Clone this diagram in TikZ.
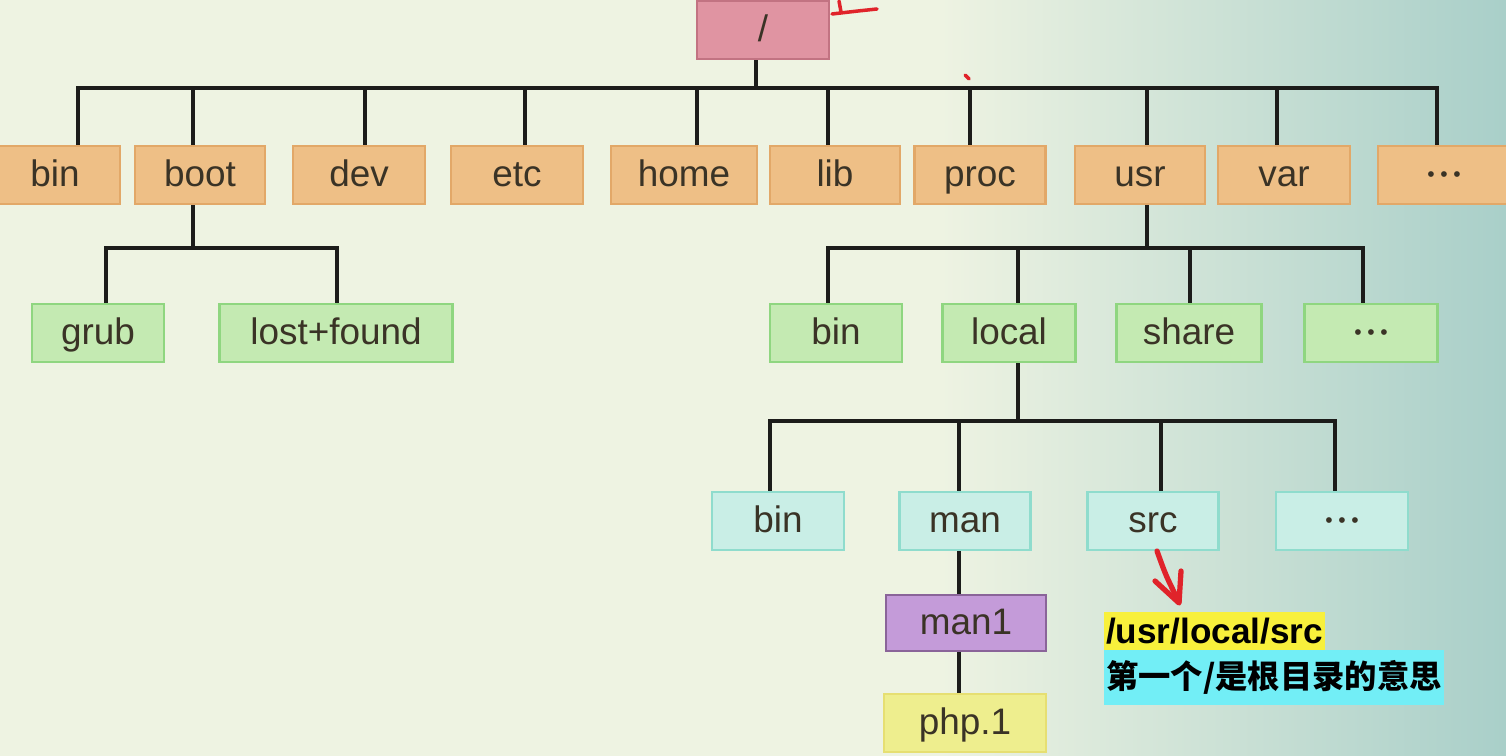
\documentclass[tikz,border=0pt]{standalone}
\usepackage{fontspec}
\setmainfont{Liberation Sans}
\newfontfamily\cjk{Noto Sans CJK SC}
\usepackage{tikz}
\usetikzlibrary{calc}
\definecolor{paper}{HTML}{EEF3E2}
\definecolor{boardteal}{HTML}{A9CFC9}
\definecolor{ink}{HTML}{3A3326}
\definecolor{linek}{HTML}{1C1C1A}
\definecolor{rootfill}{HTML}{E094A2}
\definecolor{rootedge}{HTML}{C27382}
\definecolor{orfill}{HTML}{EEBF86}
\definecolor{oredge}{HTML}{E2A868}
\definecolor{grfill}{HTML}{C4EAB2}
\definecolor{gredge}{HTML}{8FD680}
\definecolor{cyfill}{HTML}{C9EEE6}
\definecolor{cyedge}{HTML}{8FDCCD}
\definecolor{pufill}{HTML}{C49BD9}
\definecolor{puedge}{HTML}{8A6499}
\definecolor{yefill}{HTML}{EEEE8E}
\definecolor{yeedge}{HTML}{E6DF72}
\definecolor{hlyellow}{HTML}{F8F03C}
\definecolor{hlcyan}{HTML}{72EEF6}
\definecolor{pen}{HTML}{E0232A}
\newcommand\moredots{\raisebox{2.8pt}{\fontsize{12}{14}\selectfont •\kern3.2pt•\kern3.2pt•}}

\begin{document}
\begin{tikzpicture}[x=0.02cm, y=-0.02cm,
  dirbox/.style={draw, line width=1.2pt, minimum height=1.16cm, minimum width=2.64cm,
    inner sep=0pt, text height=17pt, text depth=4pt, text=ink,
    font=\fontsize{21}{25}\selectfont},
  rootbox/.style={dirbox, fill=rootfill, draw=rootedge},
  topdir/.style={dirbox, fill=orfill, draw=oredge},
  subdir/.style={dirbox, fill=grfill, draw=gredge},
  localdir/.style={dirbox, fill=cyfill, draw=cyedge},
  mandir/.style={dirbox, fill=pufill, draw=puedge, minimum width=3.2cm},
  leafdir/.style={dirbox, fill=yefill, draw=yeedge, minimum width=3.24cm},
  wire/.style={line width=2.2pt, draw=linek},
  bus/.style={wire, line cap=rect},
  note/.style={anchor=north west, inner xsep=1pt, inner ysep=0pt, text=black},
  scrawl/.style={pen, line width=3pt, line cap=round, line join=round}]
  \useasboundingbox (0,0) rectangle (1506,756);
  \fill[paper] (0,0) rectangle (1506,756);
  \shade[left color=paper, right color=boardteal] (940,0) rectangle (1506,756);

  % root and first level
  \node[rootbox] (root) at (763,30) {/};
  \node[topdir, minimum width=2.6cm] (bin) at (55,175) {bin};
  \node[topdir, minimum width=2.6cm] (boot) at (200,175) {boot};
  \node[topdir] (dev) at (359,175) {dev};
  \node[topdir] (etc) at (517,175) {etc};
  \node[topdir, minimum width=2.92cm] (home) at (684,175) {home};
  \node[topdir, minimum width=2.6cm] (lib) at (835,175) {lib};
  \node[topdir, minimum width=2.62cm] (proc) at (980,175) {proc};
  \node[topdir, minimum width=2.6cm] (usr) at (1140,175) {usr};
  \node[topdir] (var) at (1284,175) {var};
  \node[topdir] (dots) at (1444,175) {\moredots};

  % under /boot
  \node[subdir] (grub) at (98,333) {grub};
  \node[subdir, minimum width=4.66cm] (lost) at (336,333) {lost+found};

  % under /usr
  \node[subdir] (ubin) at (836,333) {bin};
  \node[subdir, minimum width=2.66cm] (local) at (1009,333) {local};
  \node[subdir, minimum width=2.9cm] (share) at (1189,333) {share};
  \node[subdir, minimum width=2.66cm] (udots) at (1371,333) {\moredots};

  % under /usr/local
  \node[localdir] (lbin) at (778,521) {bin};
  \node[localdir, minimum width=2.62cm] (man) at (965,521) {man};
  \node[localdir, minimum width=2.62cm] (src) at (1153,521) {src};
  \node[localdir] (ldots) at (1342,521) {\moredots};

  \node[mandir, minimum height=1.12cm] (man1) at (966,623) {man1};
  \node[leafdir] (php) at (965,723) {php.1};

  % buses
  \coordinate (bus1) at (0,88);
  \coordinate (bus2) at (0,248);
  \coordinate (bus3) at (0,421);

  \path ($(root.south)+(-7,0)$) coordinate (droot);
  \draw[wire] (droot) -- (droot |- bus1);
  \foreach \n/\dx in {bin/23,boot/-7,dev/6,etc/8,home/13,lib/-7,proc/-10,usr/7,var/-7,dots/-7}{
    \path ($(\n.north)+(\dx,0)$) coordinate (t\n);
    \draw[wire] (t\n) -- (t\n |- bus1);
  }
  \draw[bus] (tbin |- bus1) -- (tdots |- bus1);

  \path ($(boot.south)+(-7,0)$) coordinate (dboot);
  \draw[wire] (dboot) -- (dboot |- bus2);
  \foreach \n/\dx in {grub/8,lost/1}{
    \path ($(\n.north)+(\dx,0)$) coordinate (t\n);
    \draw[wire] (t\n) -- (t\n |- bus2);
  }
  \draw[bus] (tgrub |- bus2) -- (tlost |- bus2);

  \path ($(usr.south)+(7,0)$) coordinate (dusr);
  \draw[wire] (dusr) -- (dusr |- bus2);
  \foreach \n/\dx in {ubin/-8,local/9,share/1,udots/-8}{
    \path ($(\n.north)+(\dx,0)$) coordinate (t\n);
    \draw[wire] (t\n) -- (t\n |- bus2);
  }
  \draw[bus] (tubin |- bus2) -- (tudots |- bus2);

  \path ($(local.south)+(9,0)$) coordinate (dlocal);
  \draw[wire] (dlocal) -- (dlocal |- bus3);
  \foreach \n/\dx in {lbin/-8,man/-6,src/8,ldots/-7}{
    \path ($(\n.north)+(\dx,0)$) coordinate (t\n);
    \draw[wire] (t\n) -- (t\n |- bus3);
  }
  \draw[bus] (tlbin |- bus3) -- (tldots |- bus3);

  \path ($(man.south)+(-6,0)$) coordinate (dman);
  \draw[wire] (dman) -- (dman |- man1.north);
  \draw[wire] (dman |- man1.south) -- (dman |- php.north);

  % hand marks
  \draw[scrawl, line width=2pt] (839,1) -- (841,12);
  \draw[scrawl, line width=2pt] (832,14) -- (858,11) -- (877,9);
  \draw[scrawl, line width=2pt] (965,75) -- (969,79);
  \draw[scrawl] (1157,551) .. controls (1166,576) .. (1179,602);
  \draw[scrawl] (1155,581) -- (1179,603) -- (1181,571);

  % path note
  \node[note, fill=hlyellow, minimum height=0.76cm, font=\fontsize{20}{24}\selectfont\bfseries]
    (path) at (1104,612) {/usr/local/src};
  \node[note, fill=hlcyan, minimum height=1.1cm, font=\cjk\fontsize{18.4}{22}\selectfont\bfseries]
    (meaning) at (1104,650) {第一个/是根目录的意思};
\end{tikzpicture}
\end{document}
